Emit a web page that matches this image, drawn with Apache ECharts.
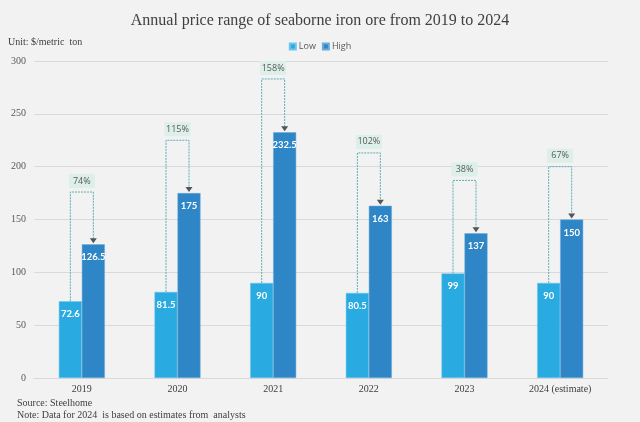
<!DOCTYPE html>
<html><head><meta charset="utf-8">
<script src="https://cdn.jsdelivr.net/npm/echarts@6/dist/echarts.min.js"></script>
<style>html,body{margin:0;padding:0;background:#F2F2F2}#c{width:640px;height:422px}</style>
</head><body><div id="c"></div>
<script>
var categories = ['2019','2020','2021','2022','2023','2024 (estimate)'];
var lowValues = [72.6, 81.5, 90, 80.5, 99, 90];
var highValues = [126.5, 175, 232.5, 163, 137, 150];
var connectorLevels = [176, 225, 283, 213, 187, 200];
var pctLabels = ['74%','115%','158%','102%','38%','67%'];
var yTicks = [0, 50, 100, 150, 200, 250, 300];

var connData = categories.map(function(c, i){ return [i, lowValues[i], highValues[i], connectorLevels[i], pctLabels[i]]; });
var BW = 23;
var chart = echarts.init(document.getElementById('c'));
var barLabel = {show: true, position: 'insideTop', offset:[0,3], color: '#fff', fontFamily: 'Lato', fontSize: 9.5, fontWeight: 'bold'};
chart.setOption({
  backgroundColor: '#F2F2F2',
  animation: false,
  title: {
    text: 'Annual price range of seaborne iron ore from 2019 to 2024',
    left: 'center', top: 8,
    textStyle: {fontFamily: 'Liberation Serif', fontSize: 16, fontWeight: 'normal', color: '#404040'}
  },
  graphic: [
    {type:'text', left: 8, top: 37, style:{text:'Unit: $/metric  ton', font:'10px "Liberation Serif"', fill:'#404040'}},
    {type:'text', left: 17, top: 398, style:{text:'Source: Steelhome', font:'10px "Liberation Serif"', fill:'#404040'}},
    {type:'text', left: 17, top: 410, style:{text:'Note: Data for 2024  is based on estimates from  analysts', font:'10px "Liberation Serif"', fill:'#404040'}}
  ],
  legend: {
    data: ['Low','High'], top: 37, left: 'center', itemWidth: 6, itemHeight: 6, itemGap: 6,
    icon: 'rect',
    textStyle: {fontFamily: 'Open Sans', fontSize: 9, color: '#595959', padding:[0,0,0,-2]}
  },
  grid: {left: 34, right: 32, top: 61, bottom: 44},
  xAxis: {
    type: 'category', data: categories,
    axisTick: {show: false},
    axisLine: {lineStyle: {color: '#D9D9D9'}},
    axisLabel: {fontFamily: 'Liberation Serif', fontSize: 10, color: '#404040', margin: 6}
  },
  yAxis: {
    type: 'value', min: yTicks[0], max: yTicks[yTicks.length-1], interval: 50,
    axisLine: {show: false}, axisTick: {show: false},
    splitLine: {lineStyle: {color: '#D9D9D9'}},
    axisLabel: {fontFamily: 'Liberation Serif', fontSize: 10, color: '#595959', margin: 8}
  },
  series: [
    {
      name: 'Low', type: 'bar', data: lowValues, barWidth: BW, barGap: '0%',
      itemStyle: {color: '#29ABE2', borderColor: '#6EC6EC', borderWidth: 0.5},
      label: barLabel
    },
    {
      name: 'High', type: 'bar', data: highValues, barWidth: BW, barGap: '0%',
      itemStyle: {color: '#2E86C6', borderColor: '#6FA9D9', borderWidth: 0.5},
      label: barLabel
    },
    {
      name: 'conn', type: 'custom', data: connData, z: 5,
      renderItem: function(params, api){
        var idx = api.value(0);
        var base = api.coord([idx, 0]);
        var cx = base[0];
        var x1 = cx - BW/2, x2 = cx + BW/2;
        var yLow = api.coord([idx, api.value(1)])[1];
        var yHigh = api.coord([idx, api.value(2)])[1];
        var yTop = api.coord([idx, api.value(3)])[1];
        var ls = {stroke: '#5AAFB4', lineWidth: 1, lineDash: [2, 1], fill: null};
        var txt = connData[params.dataIndex][4];
        return {type: 'group', children: [
          {type: 'polyline', shape: {points: [[x1, yLow],[x1, yTop],[x2, yTop],[x2, yHigh - 5]]}, style: ls},
          {type: 'polygon', shape: {points: [[x2-3.5, yHigh-6],[x2+3.5, yHigh-6],[x2, yHigh-1]]}, style: {fill: '#555555'}},
          {type: 'rect', shape: {x: cx - 13, y: yTop - 18, width: 26, height: 14}, style: {fill: '#DDEFE9'}},
          {type: 'text', x: cx, y: yTop - 11, style: {text: txt, align: 'center', verticalAlign: 'middle', font: '9px "Open Sans"', fill: '#595959'}}
        ]};
      }
    }
  ]
});
</script></body></html>
